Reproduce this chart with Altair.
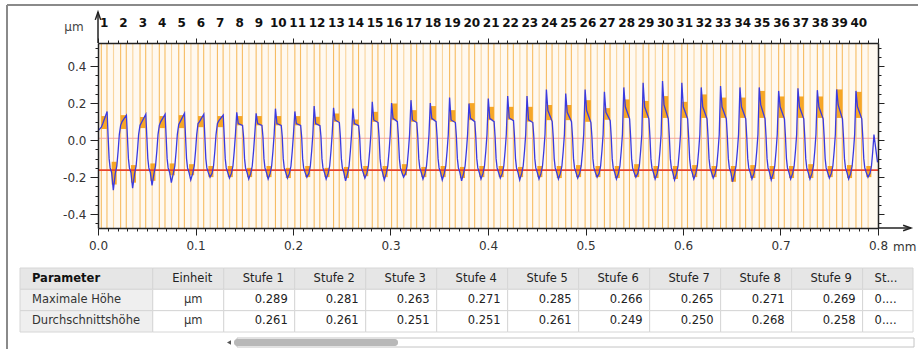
import altair as alt
import pandas as pd

# ---------------------------------------------------------------------------
# Step profile: 40 steps along 0.8 mm
# ---------------------------------------------------------------------------
stage_start = [0.0034, 0.0232, 0.0431, 0.0629, 0.0828, 0.1026, 0.1225, 0.1423,
               0.1622, 0.1820, 0.2019, 0.2217, 0.2416, 0.2614, 0.2813, 0.3011,
               0.3210, 0.3408, 0.3606, 0.3805, 0.4003, 0.4202, 0.4400, 0.4599,
               0.4797, 0.4996, 0.5194, 0.5393, 0.5591, 0.5790, 0.5988, 0.6187,
               0.6385, 0.6584, 0.6782, 0.6981, 0.7179, 0.7378, 0.7576, 0.7774]
stage_label = ["1", "2", "3", "4", "5", "6", "7", "8", "9", "10",
               "11", "12", "13", "14", "15", "16", "17", "18", "19", "20",
               "21", "22", "23", "24", "25", "26", "27", "28", "29", "30",
               "31", "32", "33", "34", "35", "36", "37", "38", "39", "40"]

# profile heights (µm) on each step: at the rising edge, just after it,
# at the end of the upper plateau, and the lowest point of the groove
peak = [0.07, 0.08, 0.08, 0.08, 0.085, 0.09, 0.09, 0.15, 0.145, 0.17,
        0.155, 0.184, 0.175, 0.171, 0.207, 0.20, 0.216, 0.20, 0.23, 0.198,
        0.225, 0.238, 0.238, 0.274, 0.252, 0.274, 0.261, 0.285, 0.31, 0.32,
        0.31, 0.285, 0.292, 0.285, 0.285, 0.266, 0.28, 0.27, 0.274, 0.266]
plateau = [0.09, 0.10, 0.095, 0.10, 0.10, 0.10, 0.105, 0.09, 0.09, 0.09,
           0.09, 0.09, 0.109, 0.09, 0.109, 0.118, 0.109, 0.118, 0.109, 0.118,
           0.118, 0.12, 0.11, 0.16, 0.15, 0.16, 0.15, 0.18, 0.18, 0.19,
           0.18, 0.18, 0.18, 0.18, 0.19, 0.18, 0.18, 0.18, 0.19, 0.18]
shoulder = [0.155, 0.135, 0.14, 0.14, 0.145, 0.14, 0.135, 0.08, 0.08, 0.08,
            0.08, 0.078, 0.095, 0.078, 0.095, 0.10, 0.095, 0.10, 0.095, 0.10,
            0.10, 0.105, 0.095, 0.10, 0.10, 0.095, 0.105, 0.115, 0.115, 0.115,
            0.115, 0.115, 0.115, 0.115, 0.115, 0.115, 0.115, 0.115, 0.115, 0.115]
trough = [-0.27, -0.26, -0.245, -0.23, -0.215, -0.20, -0.205, -0.21, -0.21, -0.205,
          -0.20, -0.21, -0.22, -0.205, -0.215, -0.20, -0.21, -0.215, -0.22, -0.21,
          -0.205, -0.215, -0.21, -0.21, -0.205, -0.20, -0.21, -0.20, -0.21, -0.215,
          -0.21, -0.205, -0.225, -0.21, -0.215, -0.21, -0.21, -0.205, -0.21, -0.20]
# falling edge, groove and rising edge of every step (offset mm, height µm);
# None marks the groove minimum taken from `trough`
edge_offset = [0.00697, 0.00800, 0.00903, 0.01056, None, 0.01436, 0.01590, 0.01723, 0.01846]
edge_height = [0.02, -0.10, -0.15, -0.175, None, -0.18, -0.14, -0.06, 0.03]
TROUGH_AT = 0.01231
PLATEAU_AT = 0.00154
SHOULDER_AT = 0.00595
profile_start = (0.0, 0.05)
profile_end = (0.7995, -0.12)

# evaluation windows (upper and lower level of each step)
top_lo = [0.06, 0.06, 0.065, 0.065, 0.065, 0.07, 0.07, 0.08, 0.08, 0.08,
          0.08, 0.081, 0.099, 0.081, 0.099, 0.108, 0.099, 0.108, 0.099, 0.108,
          0.108, 0.11, 0.10, 0.108, 0.108, 0.099, 0.11, 0.12, 0.12, 0.12,
          0.12, 0.12, 0.12, 0.12, 0.12, 0.12, 0.12, 0.12, 0.12, 0.12]
top_hi = [0.13, 0.135, 0.125, 0.13, 0.135, 0.13, 0.13, 0.13, 0.13, 0.13,
          0.13, 0.126, 0.144, 0.112, 0.153, 0.198, 0.162, 0.184, 0.162, 0.20,
          0.18, 0.18, 0.18, 0.19, 0.19, 0.216, 0.173, 0.22, 0.212, 0.238,
          0.207, 0.247, 0.23, 0.23, 0.266, 0.236, 0.236, 0.236, 0.274, 0.261]
low_lo = [-0.24, -0.23, -0.22, -0.19, -0.19, -0.20, -0.20, -0.20, -0.20, -0.205,
          -0.20, -0.20, -0.205, -0.195, -0.20, -0.19, -0.20, -0.20, -0.205, -0.20,
          -0.20, -0.20, -0.20, -0.205, -0.20, -0.20, -0.205, -0.20, -0.205, -0.21,
          -0.20, -0.20, -0.225, -0.205, -0.21, -0.205, -0.205, -0.20, -0.205, -0.20]
low_hi = [-0.117, -0.135, -0.126, -0.126, -0.13, -0.14, -0.14, -0.15, -0.14, -0.15,
          -0.14, -0.15, -0.145, -0.14, -0.14, -0.13, -0.145, -0.14, -0.145, -0.14,
          -0.14, -0.145, -0.14, -0.14, -0.135, -0.14, -0.14, -0.13, -0.14, -0.14,
          -0.135, -0.14, -0.14, -0.135, -0.14, -0.14, -0.13, -0.14, -0.135, -0.14]
TOP_W = 0.0058
LOW_X0, LOW_X1, LOW_MARK = 0.0106, 0.0158, 0.0125

reference_level = -0.162
zero_level = 0.01

# ---------------------------------------------------------------------------
# Result table
# ---------------------------------------------------------------------------
table_header = ["Parameter", "Einheit", "Stufe 1", "Stufe 2", "Stufe 3", "Stufe 4",
                "Stufe 5", "Stufe 6", "Stufe 7", "Stufe 8", "Stufe 9", "St..."]
row_names = ["Maximale Höhe", "Durchschnittshöhe"]
row_units = ["µm", "µm"]
max_height = ["0.289", "0.281", "0.263", "0.271", "0.285", "0.266", "0.265", "0.271", "0.269"]
mean_height = ["0.261", "0.261", "0.251", "0.251", "0.261", "0.249", "0.250", "0.268", "0.258"]
truncated = "0...."

# ---------------------------------------------------------------------------
# build tables
# ---------------------------------------------------------------------------
pts = [profile_start]
for i, s in enumerate(stage_start):
    seq = [(s, peak[i]), (s + PLATEAU_AT, plateau[i]), (s + SHOULDER_AT, shoulder[i])]
    for off, h in zip(edge_offset, edge_height):
        if off is None:
            seq.append((s + TROUGH_AT, trough[i]))
        else:
            seq.append((s + off, h))
    pts.extend(p for p in seq if p[0] < profile_end[0] - 0.003)
pts.append(profile_end)
profile = pd.DataFrame(pts, columns=["x", "y"])

stages = pd.DataFrame({
    "label": stage_label,
    "s": stage_start,
    "top_lo": top_lo, "top_hi": top_hi,
    "low_lo": low_lo, "low_hi": low_hi,
})
stages["s_end"] = stages["s"] + TOP_W
stages["center"] = stages["s"] + TOP_W / 2
stages["l0"] = stages["s"] + LOW_X0
stages["l1"] = stages["s"] + LOW_X1
stages["lm"] = stages["s"] + LOW_MARK

line_x = pd.DataFrame({"x": list(stages["s"]) + list(stages["s_end"])})

X_DOM = [0.0, 0.8]
Y_DOM = [-0.475, 0.525]
W, H = 780, 185
FONT = "DejaVu Sans"


def xs(field, axis=None):
    return alt.X(field, type="quantitative",
                 scale=alt.Scale(domain=X_DOM, nice=False, zero=False), axis=axis)


def ys(field, axis=None):
    return alt.Y(field, type="quantitative",
                 scale=alt.Scale(domain=Y_DOM, nice=False, zero=False), axis=axis)


major_x = "abs(datum.value*10 - round(datum.value*10)) < 0.001"
major_y = "abs(datum.value*5 - round(datum.value*5)) < 0.001"
x_ticks = [round(0.01 * i, 2) for i in range(81)]
y_ticks = [round(-0.45 + 0.05 * i, 2) for i in range(20)]
axis_common = dict(domainColor="#222", domainWidth=1.5, tickColor="#222", tickWidth=1,
                   grid=False, title=None, labelFont=FONT, labelFontSize=12,
                   labelColor="#333", labelOverlap=False, labelFlush=False, zindex=2)

ax_bottom = alt.Axis(orient="bottom", values=x_ticks,
                     labelExpr=f"{major_x} ? format(datum.value, '.1f') : ''",
                     tickSize={"condition": {"test": major_x, "value": 7}, "value": 3},
                     labelPadding=5, **axis_common)
ax_left = alt.Axis(orient="left", values=y_ticks,
                   labelExpr=f"{major_y} ? replace(format(datum.value, '.1f'), '\u2212', '-') : ''",
                   tickSize={"condition": {"test": major_y, "value": 8}, "value": 3},
                   labelPadding=4, **axis_common)
ax_top = alt.Axis(orient="top", values=x_ticks, labels=False,
                  tickSize={"condition": {"test": major_x, "value": 5}, "value": 3},
                  **axis_common)
ax_right = alt.Axis(orient="right", values=y_ticks, labels=False,
                    tickSize={"condition": {"test": major_y, "value": 6}, "value": 3},
                    **axis_common)

ORANGE_LINE = "#f4b24a"
ORANGE_BAR = "#f5a21c"

# vertical window lines (full height) carrying the bottom axis
v_lines = alt.Chart(line_x).mark_rule(color=ORANGE_LINE, strokeWidth=1.1, opacity=0.85).encode(
    x=xs("x", ax_bottom),
    y=alt.value(0), y2=alt.value(H),
)
axis_holder = alt.Chart(pd.DataFrame({"x": [0.0], "y": [0.0]})).mark_point(opacity=0).encode(
    x=xs("x", ax_top), y=ys("y", ax_left))
axis_holder2 = alt.Chart(pd.DataFrame({"x": [0.0], "y": [0.0]})).mark_point(opacity=0).encode(
    y=ys("y", ax_right))

low_marks = alt.Chart(stages).mark_rule(color=ORANGE_LINE, strokeWidth=1.1, opacity=0.5).encode(
    x=xs("lm"), y=alt.value(0), y2=alt.value(H))

top_bars = alt.Chart(stages).mark_rect(color=ORANGE_BAR, opacity=0.95).encode(
    x=xs("s"), x2="s_end", y=ys("top_lo"), y2="top_hi")
low_bars = alt.Chart(stages).mark_rect(color=ORANGE_BAR, opacity=0.95).encode(
    x=xs("l0"), x2="l1", y=ys("low_lo"), y2="low_hi")

levels = pd.DataFrame({"y": [zero_level, reference_level],
                       "c": ["#f2a5a0", "#e8442c"], "w": [1.0, 1.6]})
level_lines = alt.Chart(levels).mark_rule().encode(
    y=ys("y"), x=alt.value(0), x2=alt.value(W),
    color=alt.Color("c:N", scale=None), strokeWidth=alt.StrokeWidth("w:Q", scale=None))

profile_line = alt.Chart(profile).mark_line(color="#3a3ae0", strokeWidth=1.3).encode(
    x=xs("x"), y=ys("y"), order="x:Q")

stage_text = alt.Chart(stages).mark_text(font=FONT, fontSize=12, fontWeight="bold",
                                         color="#111", baseline="middle").encode(
    x=xs("center"), y=alt.value(-20), text="label:N")

unit_y = alt.Chart(pd.DataFrame({"t": ["µm"]})).mark_text(
    font=FONT, fontSize=12, color="#444", baseline="middle", align="center").encode(
    x=alt.value(-24), y=alt.value(-16), text="t:N")
unit_x = alt.Chart(pd.DataFrame({"x": [0.8], "t": ["mm"]})).mark_text(
    font=FONT, fontSize=12, color="#333", baseline="middle", align="left", dx=15).encode(
    x=xs("x"), y=alt.value(H + 19), text="t:N")

# axis arrows
one = pd.DataFrame({"k": [0]})
arrow_v = alt.Chart(one).mark_rule(color="#222", strokeWidth=1.5).encode(
    x=alt.value(0), y=alt.value(-31), y2=alt.value(0))
arrow_h = alt.Chart(one).mark_rule(color="#222", strokeWidth=1.5).encode(
    x=alt.value(W), x2=alt.value(W + 33), y=alt.value(H))
arrow_up = alt.Chart(one).mark_point(
    shape="M-0.7,1L0,-1L0.7,1", filled=False, color="#222", strokeWidth=1.5, size=60,
    opacity=1).encode(x=alt.value(0), y=alt.value(-27))
arrow_right = alt.Chart(one).mark_point(
    shape="M-1,-0.7L1,0L-1,0.7", filled=False, color="#222", strokeWidth=1.5, size=60,
    opacity=1).encode(x=alt.value(W + 29), y=alt.value(H))

# outer frame
frame_top = alt.Chart(one).mark_rule(color="#8a8a8a", strokeWidth=2).encode(
    x=alt.value(-91), x2=alt.value(830), y=alt.value(-38))
frame_left = alt.Chart(one).mark_rule(color="#8a8a8a", strokeWidth=2).encode(
    x=alt.value(-91), y=alt.value(-38), y2=alt.value(320))

# ---------------------------------------------------------------------------
# table (column edges in units of one "Stufe" column)
# ---------------------------------------------------------------------------
col_left = [0.0, 1.87] + [1.87 + k for k in range(1, 11)]
col_right = [1.87, 2.87] + [2.87 + k for k in range(1, 10)] + [12.58]
row_order = ["head"] + row_names

cells = []
for j, h in enumerate(table_header):
    cells.append(dict(row="head", c0=col_left[j], c1=col_right[j], t=h,
                      fill="#e6e6e6", kind="head_left" if j in (0, 11) else "head_mid"))
for name, unit, vals in zip(row_names, row_units, [max_height, mean_height]):
    cells.append(dict(row=name, c0=col_left[0], c1=col_right[0], t=name, fill="#efefef", kind="name"))
    cells.append(dict(row=name, c0=col_left[1], c1=col_right[1], t=unit, fill="#ffffff", kind="unit"))
    for j, v in enumerate(vals):
        cells.append(dict(row=name, c0=col_left[2 + j], c1=col_right[2 + j], t=v,
                          fill="#ffffff", kind="value"))
    cells.append(dict(row=name, c0=col_left[11], c1=col_right[11], t=truncated,
                      fill="#ffffff", kind="last"))
cells = pd.DataFrame(cells)
cells["mid"] = (cells["c0"] + cells["c1"]) / 2

tx_scale = alt.Scale(domain=[0, 12.58], range=[-78, 815], nice=False, zero=False)
ty_scale = alt.Scale(domain=row_order, range=[225, 289], paddingInner=0, paddingOuter=0)


def tx(field):
    return alt.X(field, type="quantitative", scale=tx_scale, axis=None)


def ty():
    return alt.Y("row:N", scale=ty_scale, axis=None)


cell_bg = alt.Chart(cells).mark_rect(stroke="#d6d6d6", strokeWidth=1).encode(
    x=tx("c0"), x2="c1", y=ty(), fill=alt.Fill("fill:N", scale=None))


def cell_text(test, field, align, dx, weight="normal", color="#222"):
    return alt.Chart(cells).transform_filter(test).mark_text(
        font=FONT, fontSize=11.5, align=align, dx=dx, baseline="middle",
        fontWeight=weight, color=color).encode(x=tx(field), y=ty(), text="t:N")


head_name = cell_text("datum.kind == 'head_left' && datum.t == 'Parameter'", "c0", "left", 12,
                      weight="bold", color="#111")
head_last = cell_text("datum.kind == 'head_left' && datum.t != 'Parameter'", "c0", "left", 12)
head_mid = cell_text("datum.kind == 'head_mid'", "mid", "center", 4)
name_t = cell_text("datum.kind == 'name'", "c0", "left", 12, color="#333")
unit_t = cell_text("datum.kind == 'unit'", "mid", "center", 5, color="#333")
value_t = cell_text("datum.kind == 'value'", "c1", "right", -7)
last_t = cell_text("datum.kind == 'last'", "c0", "left", 12)

# horizontal scroll bar under the table
scroll_track = alt.Chart(one).mark_rect(fill="#ffffff", stroke="#c4c4c4", strokeWidth=1).encode(
    x=alt.value(139), x2=alt.value(816), y=alt.value(295), y2=alt.value(304))
scroll_thumb = alt.Chart(one).mark_rect(fill="#b8b8b8", cornerRadius=3).encode(
    x=alt.value(136), x2=alt.value(300), y=alt.value(296), y2=alt.value(303))
scroll_arrow = alt.Chart(one).mark_point(
    shape="triangle-left", filled=True, color="#555", size=22, opacity=1).encode(
    x=alt.value(131), y=alt.value(299.5))

chart = alt.layer(
    v_lines, low_marks, top_bars, low_bars, level_lines, profile_line,
    axis_holder, axis_holder2, stage_text, unit_y, unit_x,
    arrow_v, arrow_h, arrow_up, arrow_right, frame_top, frame_left,
    cell_bg, head_name, head_last, head_mid, name_t, unit_t, value_t, last_t,
    scroll_track, scroll_thumb, scroll_arrow,
).resolve_scale(x="independent", y="independent").resolve_axis(
    x="independent", y="independent"
).properties(
    width=W, height=H,
    padding={"left": 98, "top": 43, "right": 40, "bottom": 121},
    autosize=alt.AutoSizeParams(type="none"),
    background="#ffffff",
).configure_view(fill="#fff9f0", stroke=None)

chart.save("out.html", embed_options={"renderer": "svg", "actions": False})
